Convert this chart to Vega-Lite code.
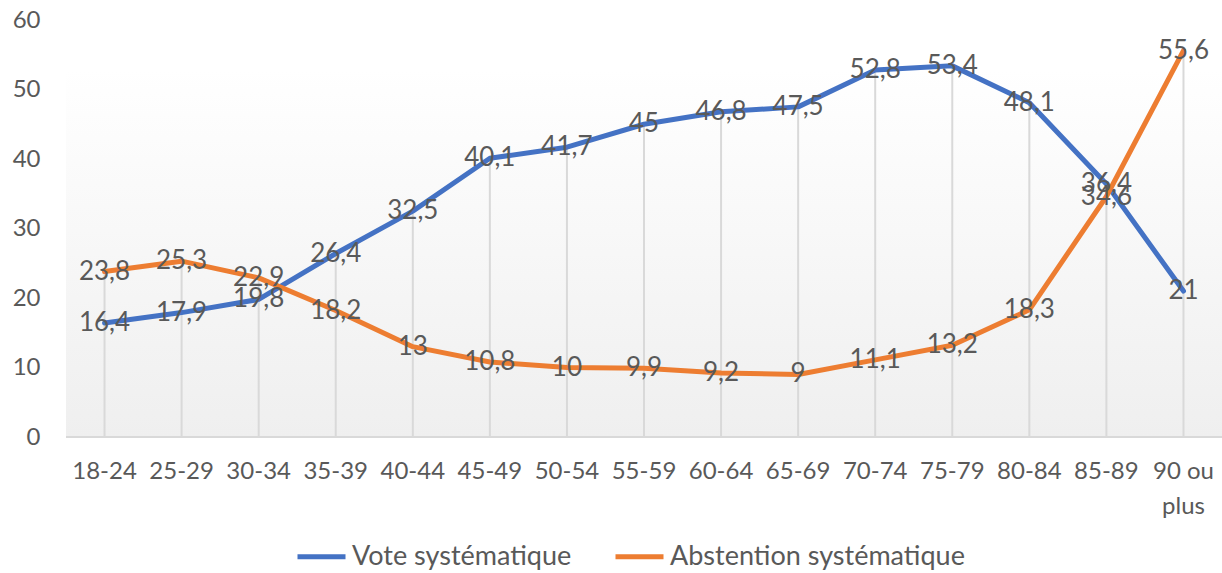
{
  "$schema": "https://vega.github.io/schema/vega-lite/v6.json",
  "width": 1156,
  "height": 417,
  "autosize": {"type": "none"},
  "padding": {"left": 66, "top": 20, "right": 0, "bottom": 136},
  "background": "white",
  "config": {
    "locale": {"number": {"decimal": ",", "thousands": " ", "grouping": [3], "currency": ["", " €"]}},
    "view": {"stroke": null},
    "font": "Lato"
  },
  "data": {
    "values": [
      {"age": "18-24", "serie": "Vote systématique", "value": 16.4},
      {"age": "25-29", "serie": "Vote systématique", "value": 17.9},
      {"age": "30-34", "serie": "Vote systématique", "value": 19.8},
      {"age": "35-39", "serie": "Vote systématique", "value": 26.4},
      {"age": "40-44", "serie": "Vote systématique", "value": 32.5},
      {"age": "45-49", "serie": "Vote systématique", "value": 40.1},
      {"age": "50-54", "serie": "Vote systématique", "value": 41.7},
      {"age": "55-59", "serie": "Vote systématique", "value": 45},
      {"age": "60-64", "serie": "Vote systématique", "value": 46.8},
      {"age": "65-69", "serie": "Vote systématique", "value": 47.5},
      {"age": "70-74", "serie": "Vote systématique", "value": 52.8},
      {"age": "75-79", "serie": "Vote systématique", "value": 53.4},
      {"age": "80-84", "serie": "Vote systématique", "value": 48.1},
      {"age": "85-89", "serie": "Vote systématique", "value": 36.4},
      {"age": "90 ou plus", "serie": "Vote systématique", "value": 21},
      {"age": "18-24", "serie": "Abstention systématique", "value": 23.8},
      {"age": "25-29", "serie": "Abstention systématique", "value": 25.3},
      {"age": "30-34", "serie": "Abstention systématique", "value": 22.9},
      {"age": "35-39", "serie": "Abstention systématique", "value": 18.2},
      {"age": "40-44", "serie": "Abstention systématique", "value": 13},
      {"age": "45-49", "serie": "Abstention systématique", "value": 10.8},
      {"age": "50-54", "serie": "Abstention systématique", "value": 10},
      {"age": "55-59", "serie": "Abstention systématique", "value": 9.9},
      {"age": "60-64", "serie": "Abstention systématique", "value": 9.2},
      {"age": "65-69", "serie": "Abstention systématique", "value": 9},
      {"age": "70-74", "serie": "Abstention systématique", "value": 11.1},
      {"age": "75-79", "serie": "Abstention systématique", "value": 13.2},
      {"age": "80-84", "serie": "Abstention systématique", "value": 18.3},
      {"age": "85-89", "serie": "Abstention systématique", "value": 34.6},
      {"age": "90 ou plus", "serie": "Abstention systématique", "value": 55.6}
    ]
  },
  "encoding": {
    "x": {
      "field": "age",
      "type": "nominal",
      "sort": null,
      "axis": {
        "title": null,
        "labelAngle": 0,
        "domain": false,
        "ticks": false,
        "grid": false,
        "labelPadding": 22,
        "labelFontSize": 24,
        "labelLineHeight": 35,
        "labelColor": "#595959",
        "labelExpr": "datum.label == '90 ou plus' ? ['90 ou', 'plus'] : datum.label"
      }
    }
  },
  "layer": [
    {
      "data": {"values": [{"band": "fond"}]},
      "mark": {
        "type": "rect",
        "color": {
          "gradient": "linear",
          "x1": 0, "y1": 0, "x2": 0, "y2": 1,
          "stops": [{"offset": 0, "color": "#ffffff"}, {"offset": 1, "color": "#efefef"}]
        }
      },
      "encoding": {
        "x": null,
        "y": {"datum": 53, "type": "quantitative", "scale": {"domain": [0, 60]}},
        "y2": {"datum": 0}
      }
    },
    {
      "mark": {"type": "rule", "color": "#d9d9d9", "strokeWidth": 2},
      "encoding": {
        "y": {"aggregate": "max", "field": "value", "type": "quantitative"},
        "y2": {"datum": 0}
      }
    },
    {
      "data": {"values": [{"base": 0}]},
      "mark": {"type": "rule", "color": "#d9d9d9", "strokeWidth": 2},
      "encoding": {
        "x": null,
        "y": {"field": "base", "type": "quantitative"}
      }
    },
    {
      "mark": {"type": "line", "strokeWidth": 5, "strokeCap": "round", "strokeJoin": "round"},
      "encoding": {
        "y": {
          "field": "value",
          "type": "quantitative",
          "scale": {"domain": [0, 60]},
          "axis": {
            "title": null,
            "values": [0, 10, 20, 30, 40, 50, 60],
            "grid": false,
            "domain": false,
            "ticks": false,
            "labelPadding": 26,
            "labelFontSize": 24,
            "labelColor": "#595959"
          }
        },
        "color": {
          "field": "serie",
          "type": "nominal",
          "scale": {
            "domain": ["Vote systématique", "Abstention systématique"],
            "range": ["#4472c4", "#ed7d31"]
          },
          "legend": {
            "title": null,
            "orient": "none",
            "direction": "horizontal",
            "legendX": 229,
            "legendY": 510,
            "symbolType": "stroke",
            "symbolSize": 2304,
            "symbolStrokeWidth": 5,
            "labelFontSize": 27,
            "labelLimit": 400,
            "labelColor": "#595959",
            "labelOffset": 4,
            "columnPadding": 33
          }
        }
      }
    },
    {
      "mark": {"type": "text", "fontSize": 26, "color": "#595959"},
      "encoding": {
        "y": {"field": "value", "type": "quantitative"},
        "text": {"field": "value", "type": "quantitative", "format": ".3~g"}
      }
    }
  ]
}
